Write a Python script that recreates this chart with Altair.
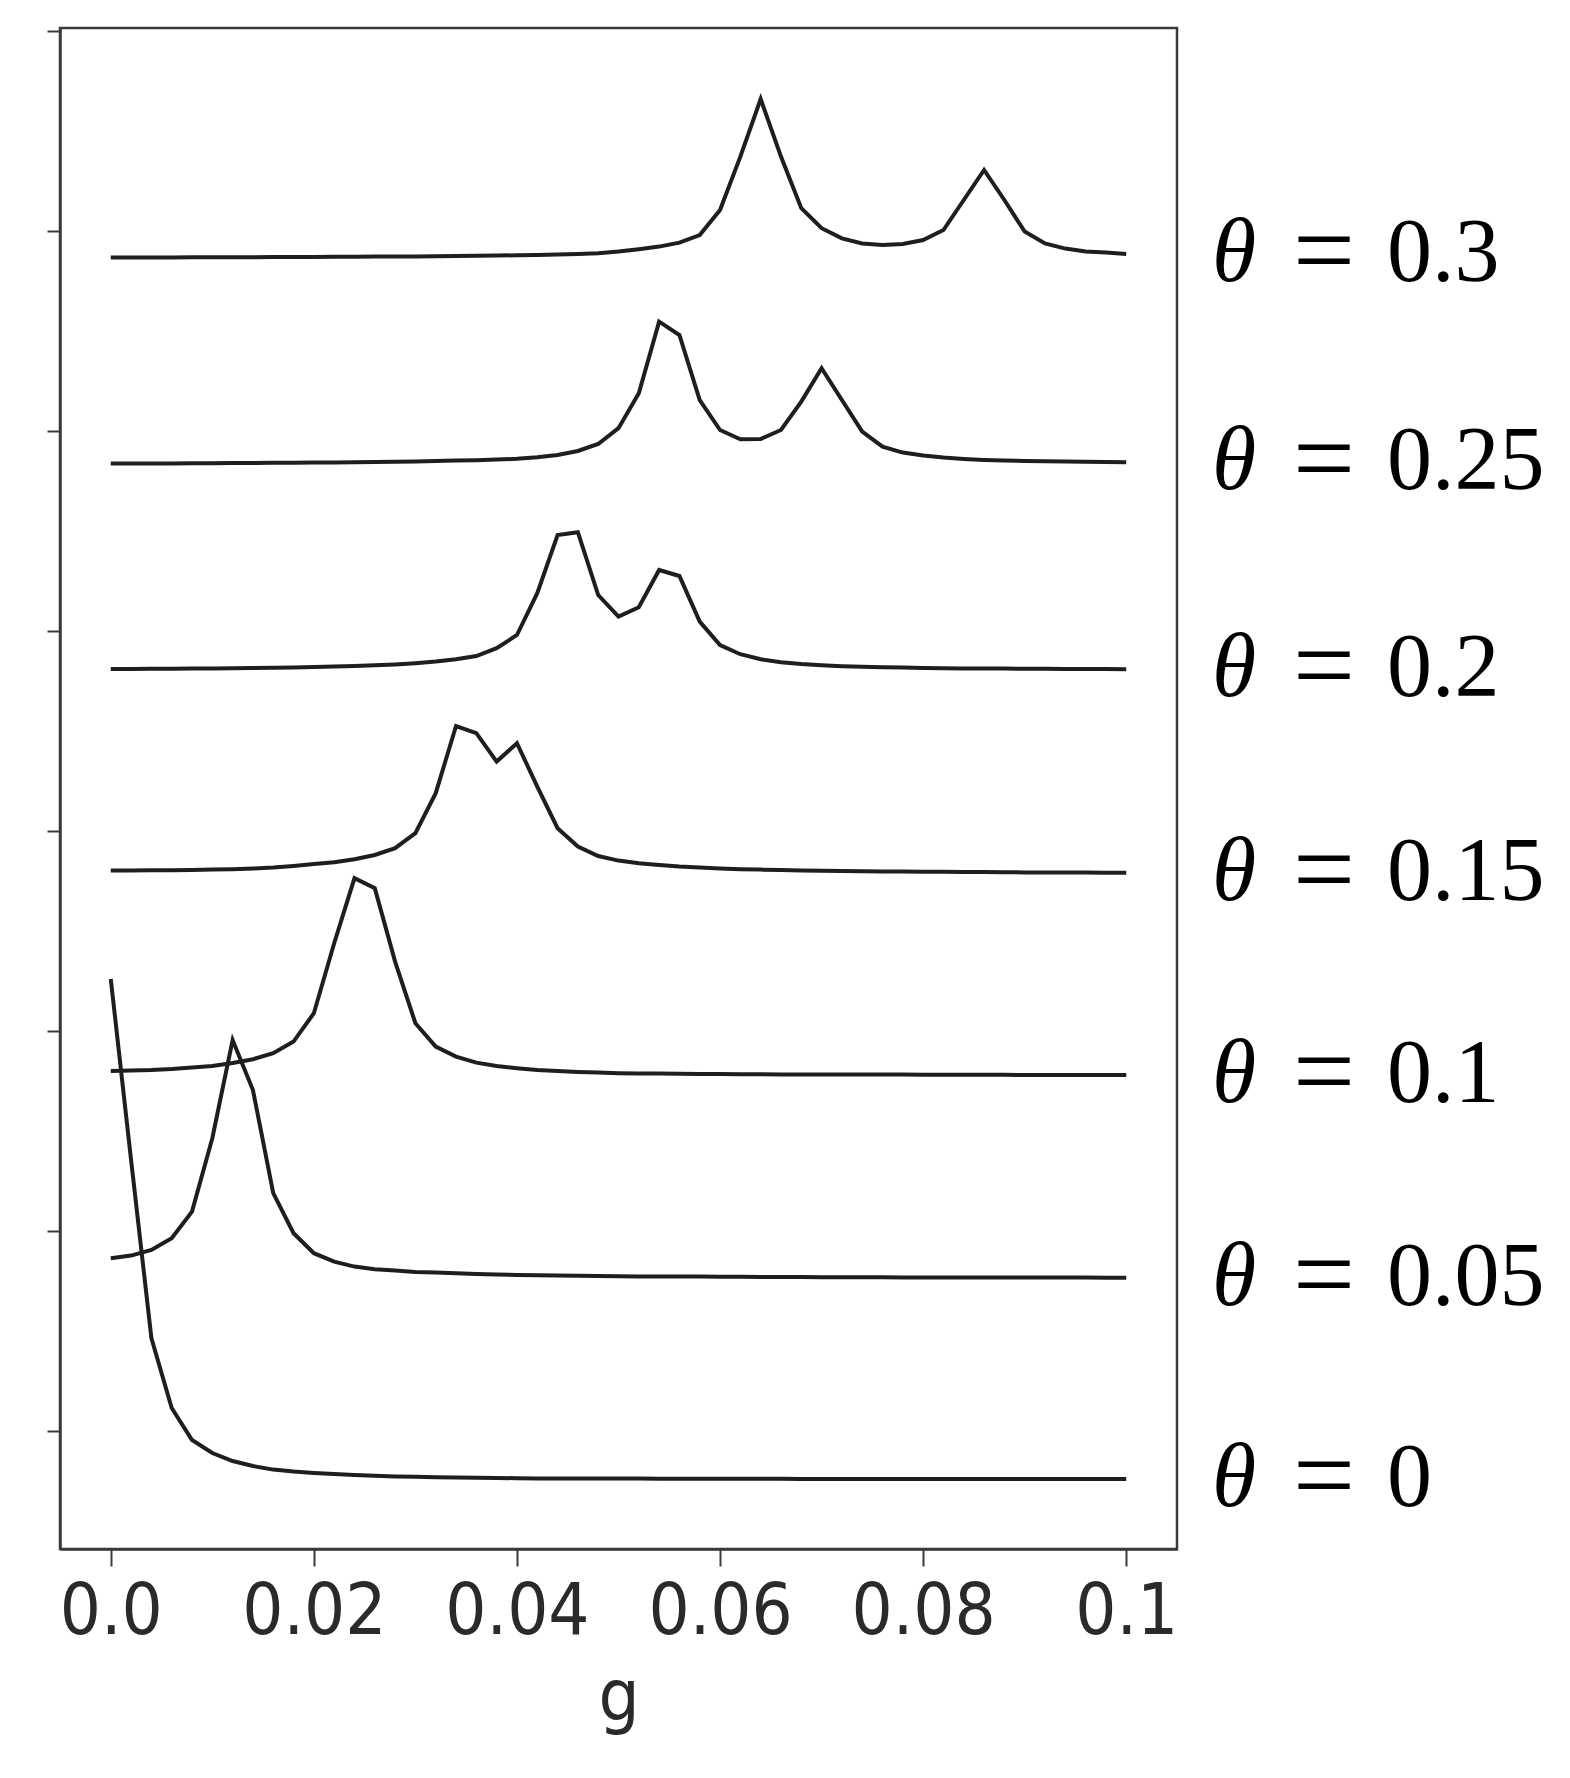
import altair as alt
import pandas as pd

# x grid (g)
G = [0.000, 0.002, 0.004, 0.006, 0.008, 0.010, 0.012, 0.014, 0.016, 0.018,
     0.020, 0.022, 0.024, 0.026, 0.028, 0.030, 0.032, 0.034, 0.036, 0.038,
     0.040, 0.042, 0.044, 0.046, 0.048, 0.050, 0.052, 0.054, 0.056, 0.058,
     0.060, 0.062, 0.064, 0.066, 0.068, 0.070, 0.072, 0.074, 0.076, 0.078,
     0.080, 0.082, 0.084, 0.086, 0.088, 0.090, 0.092, 0.094, 0.096, 0.098,
     0.100]

THETA_LABELS = ["0", "0.05", "0.1", "0.15", "0.2", "0.25", "0.3"]

S0 = [2.260, 1.355, 0.465, 0.115, -0.045, -0.110, -0.150, -0.175, -0.193, -0.203,
      -0.210, -0.215, -0.220, -0.224, -0.227, -0.229, -0.231, -0.233, -0.234, -0.235,
      -0.236, -0.237, -0.237, -0.238, -0.238, -0.238, -0.238, -0.239, -0.239, -0.239,
      -0.239, -0.239, -0.239, -0.239, -0.240, -0.240, -0.240, -0.240, -0.240, -0.240,
      -0.240, -0.240, -0.240, -0.240, -0.240, -0.240, -0.240, -0.240, -0.240, -0.240,
      -0.240]
S005 = [0.864, 0.877, 0.905, 0.964, 1.097, 1.464, 1.955, 1.705, 1.189, 0.989,
        0.889, 0.847, 0.822, 0.809, 0.802, 0.795, 0.792, 0.789, 0.785, 0.783,
        0.780, 0.779, 0.777, 0.776, 0.775, 0.774, 0.773, 0.773, 0.772, 0.772,
        0.771, 0.771, 0.770, 0.770, 0.770, 0.769, 0.769, 0.769, 0.769, 0.768,
        0.768, 0.768, 0.768, 0.767, 0.767, 0.767, 0.767, 0.767, 0.767, 0.766,
        0.766]
S01 = [1.800, 1.803, 1.805, 1.810, 1.818, 1.825, 1.840, 1.859, 1.889, 1.947,
       2.089, 2.439, 2.764, 2.714, 2.347, 2.039, 1.922, 1.872, 1.842, 1.825,
       1.814, 1.805, 1.800, 1.795, 1.792, 1.789, 1.788, 1.787, 1.786, 1.785,
       1.785, 1.784, 1.784, 1.783, 1.783, 1.783, 1.782, 1.782, 1.782, 1.782,
       1.781, 1.781, 1.781, 1.781, 1.781, 1.780, 1.780, 1.780, 1.780, 1.780,
       1.780]
S015 = [2.803, 2.803, 2.804, 2.804, 2.805, 2.807, 2.809, 2.812, 2.817, 2.825,
        2.835, 2.844, 2.859, 2.880, 2.914, 2.989, 3.189, 3.525, 3.489, 3.347,
        3.439, 3.222, 3.014, 2.922, 2.875, 2.852, 2.839, 2.830, 2.822, 2.817,
        2.813, 2.809, 2.807, 2.805, 2.803, 2.801, 2.800, 2.799, 2.798, 2.797,
        2.796, 2.796, 2.795, 2.795, 2.794, 2.793, 2.793, 2.792, 2.792, 2.791,
        2.791]
S02 = [3.810, 3.810, 3.811, 3.811, 3.812, 3.813, 3.814, 3.815, 3.816, 3.818,
       3.820, 3.822, 3.825, 3.829, 3.833, 3.839, 3.847, 3.859, 3.875, 3.914,
       3.980, 4.189, 4.480, 4.494, 4.180, 4.072, 4.119, 4.305, 4.275, 4.047,
       3.930, 3.884, 3.859, 3.844, 3.835, 3.829, 3.824, 3.821, 3.819, 3.817,
       3.815, 3.814, 3.813, 3.812, 3.812, 3.811, 3.811, 3.810, 3.810, 3.810,
       3.809]
S025 = [4.838, 4.838, 4.838, 4.838, 4.839, 4.839, 4.840, 4.840, 4.841, 4.841,
        4.842, 4.843, 4.844, 4.845, 4.846, 4.848, 4.850, 4.852, 4.854, 4.857,
        4.861, 4.869, 4.880, 4.900, 4.935, 5.014, 5.189, 5.547, 5.480, 5.155,
        5.005, 4.959, 4.960, 5.005, 5.147, 5.314, 5.155, 4.997, 4.922, 4.892,
        4.877, 4.867, 4.860, 4.855, 4.852, 4.850, 4.849, 4.847, 4.846, 4.845,
        4.844]
S03 = [5.868, 5.868, 5.868, 5.868, 5.869, 5.869, 5.869, 5.869, 5.870, 5.870,
       5.870, 5.871, 5.871, 5.872, 5.872, 5.873, 5.874, 5.875, 5.876, 5.877,
       5.879, 5.880, 5.882, 5.885, 5.889, 5.897, 5.909, 5.922, 5.942, 5.980,
       6.105, 6.372, 6.660, 6.372, 6.114, 6.014, 5.963, 5.938, 5.930, 5.935,
       5.955, 6.005, 6.155, 6.305, 6.155, 5.997, 5.938, 5.912, 5.898, 5.892,
       5.885]

SERIES = [S0, S005, S01, S015, S02, S025, S03]

X_TICKS = [0.0, 0.02, 0.04, 0.06, 0.08, 0.1]
X_TICK_LABELS = ["0.0", "0.02", "0.04", "0.06", "0.08", "0.1"]
Y_TICKS = [0, 1, 2, 3, 4, 5, 6, 7]

rows = []
for name, s in zip(THETA_LABELS, SERIES):
    for g, v in zip(G, s):
        rows.append({"theta": name, "g": g, "v": v})
df = pd.DataFrame(rows)

lab_df = pd.DataFrame({"name": THETA_LABELS, "v": [s[-1] for s in SERIES]})

label_expr = "''"
for val, lab in reversed(list(zip(X_TICKS, X_TICK_LABELS))):
    label_expr = f"abs(datum.value - {val}) < 1e-9 ? '{lab}' : ({label_expr})"

yscale = alt.Scale(domain=[-0.59, 7.015], nice=False, zero=False)
yaxis = alt.Axis(values=Y_TICKS, labels=False, ticks=True, title=None, grid=False,
                 tickSize=13, tickWidth=2, tickColor="#3a3a3a",
                 domain=True, domainColor="#3a3a3a", domainWidth=2.5)

lines = alt.Chart(df).mark_line(color="#1e1e1e", strokeWidth=4).encode(
    x=alt.X("g:Q",
            scale=alt.Scale(domain=[-0.005, 0.105], nice=False, zero=False),
            axis=alt.Axis(values=X_TICKS, labelExpr=label_expr, title="g",
                          grid=False, tickSize=17, tickWidth=2, tickColor="#3a3a3a",
                          domainColor="#3a3a3a", domainWidth=2.5,
                          labelFont="DejaVu Sans Condensed, DejaVu Sans",
                          labelFontSize=72, labelColor="#2a2a2a",
                          labelBaseline="alphabetic", labelPadding=67,
                          labelFlush=False, labelOverlap=False,
                          titleFont="DejaVu Sans Condensed, DejaVu Sans",
                          titleFontSize=72, titleFontWeight="normal",
                          titleColor="#2a2a2a", titleBaseline="alphabetic",
                          titleY=170)),
    y=alt.Y("v:Q", scale=yscale, axis=yaxis),
    detail="theta:N",
)

theta_txt = alt.Chart(lab_df).mark_text(
    text="θ", font="Liberation Serif", fontStyle="italic", fontSize=90,
    align="left", baseline="middle", color="black"
).encode(x=alt.value(1152), y=alt.Y("v:Q", scale=yscale, axis=yaxis))

eq_txt = alt.Chart(lab_df).mark_text(
    text="=", font="Liberation Serif", fontSize=110,
    align="left", baseline="middle", color="black"
).encode(x=alt.value(1233), y=alt.Y("v:Q", scale=yscale, axis=yaxis))

num_txt = alt.Chart(lab_df).mark_text(
    font="Liberation Serif", fontSize=90,
    align="left", baseline="middle", color="black"
).encode(x=alt.value(1327), y=alt.Y("v:Q", scale=yscale, axis=yaxis),
         text="name:N")

chart = alt.layer(lines, theta_txt, eq_txt, num_txt).properties(
    width=1117, height=1521,
    autosize=alt.AutoSizeParams(type="none"),
    padding={"left": 52, "top": 20, "right": 380, "bottom": 200},
).configure_view(stroke="#3a3a3a", strokeWidth=2.5)

chart.save("out.html", embed_options={"renderer": "svg", "actions": False})
